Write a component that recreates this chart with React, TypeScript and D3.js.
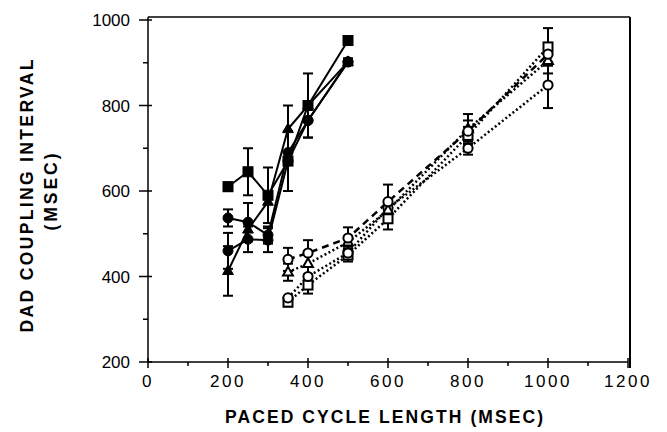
import React from "react";
import * as d3 from "d3";

const filledX = [200, 250, 300, 350, 400, 500];
const fSquare = [610, 645, 590, 670, 800, 952];
const fSquareErr = [10, 55, 65, 70, 75, 5];
const fCircleA = [537, 527, 497, 690, 765, 902];
const fCircleAErr = [20, 45, 20, 0, 40, 8];
const fTriangle = [413, 510, 575, 745, 800, 902];
const fTriangleErr = [58, 0, 0, 55, 0, 8];
const fCircleB = [460, 487, 485, 670, 765, 902];
const fCircleBErr = [42, 30, 28, 0, 0, 0];

const openX = [350, 400, 500, 600, 800, 1000];
const oSquareA = [340, 380, 450, 535, 730, 937];
const oSquareAErr = [10, 20, 15, 25, 20, 44];
const oCircleA = [350, 400, 455, 560, 700, 848];
const oCircleAErr = [0, 0, 10, 0, 15, 54];
const oTriangle = [410, 430, 480, 555, 745, 905];
const oTriangleErr = [20, 25, 10, 0, 20, 30];
const oCircleB = [440, 455, 490, 575, 740, 920];
const oCircleBErr = [27, 30, 25, 40, 40, 0];

const xTicks = [0, 200, 400, 600, 800, 1000, 1200];
const xMinor = [100, 300, 500, 700, 900, 1100];
const yTicks = [200, 400, 600, 800, 1000];
const yMinor = [300, 500, 700, 900];

type Series = {
  xs: number[];
  ys: number[];
  err: number[];
  shape: "square" | "circle" | "triangle";
  filled: boolean;
  dash: string | null;
};

const series: Series[] = [
  { xs: openX, ys: oSquareA, err: oSquareAErr, shape: "square", filled: false, dash: "2,2.5" },
  { xs: openX, ys: oCircleA, err: oCircleAErr, shape: "circle", filled: false, dash: "2,2.5" },
  { xs: openX, ys: oTriangle, err: oTriangleErr, shape: "triangle", filled: false, dash: "2,2.5" },
  { xs: openX, ys: oCircleB, err: oCircleBErr, shape: "circle", filled: false, dash: "7,5" },
  { xs: filledX, ys: fCircleB, err: fCircleBErr, shape: "circle", filled: true, dash: null },
  { xs: filledX, ys: fTriangle, err: fTriangleErr, shape: "triangle", filled: true, dash: null },
  { xs: filledX, ys: fCircleA, err: fCircleAErr, shape: "circle", filled: true, dash: null },
  { xs: filledX, ys: fSquare, err: fSquareErr, shape: "square", filled: true, dash: null },
];

const FONT = "'Liberation Sans', Arial, Helvetica, sans-serif";

export default function App() {
  const x = d3.scaleLinear().domain([0, 1200]).range([148, 628]);
  const y = d3.scaleLinear().domain([200, 1000]).range([362, 20]);
  const line = d3
    .line<[number, number]>()
    .x((d) => x(d[0]))
    .y((d) => y(d[1]));

  const marker = (s: Series, px: number, py: number, key: string) => {
    const fill = s.filled ? "#000" : "#fff";
    const sw = s.filled ? 1 : 2;
    if (s.shape === "square") {
      const r = s.filled ? 5 : 4.5;
      return <rect key={key} x={px - r} y={py - r} width={2 * r} height={2 * r} fill={fill} stroke="#000" strokeWidth={sw} />;
    }
    if (s.shape === "circle") {
      return <circle key={key} cx={px} cy={py} r={s.filled ? 5 : 4.6} fill={fill} stroke="#000" strokeWidth={sw} />;
    }
    const r = s.filled ? 6 : 5.5;
    const pts = [
      [px, py - r],
      [px + r * 0.9, py + r * 0.6],
      [px - r * 0.9, py + r * 0.6],
    ]
      .map((p) => p.join(","))
      .join(" ");
    return <polygon key={key} points={pts} fill={fill} stroke="#000" strokeWidth={sw} strokeLinejoin="miter" />;
  };

  return (
    <svg width={667} height={432} style={{ position: "absolute", left: 0, top: 0, background: "#fff" }}>
      <rect x={0} y={0} width={667} height={432} fill="#fff" />
      {/* frame */}
      <line x1={x(0)} x2={x(0)} y1={y(1000) - 3} y2={y(200)} stroke="#000" strokeWidth={1.5} />
      <line x1={x(0)} x2={x(1200)} y1={y(200)} y2={y(200)} stroke="#000" strokeWidth={1.5} />
      <line x1={x(0)} x2={x(1200) + 2} y1={y(1000) - 3} y2={y(1000) - 3} stroke="#000" strokeWidth={1.5} />
      <line x1={x(1200) + 2} x2={x(1200) + 2} y1={y(1000) - 3} y2={y(200) + 6} stroke="#000" strokeWidth={2} />

      {/* y ticks */}
      {yTicks.map((t) => (
        <g key={"yt" + t}>
          <line x1={x(0) - 9} x2={x(0) + 4} y1={y(t)} y2={y(t)} stroke="#000" strokeWidth={1.5} />
          <text x={x(0) - 18} y={y(t) + 6} textAnchor="end" fontFamily={FONT} fontSize={17} fill="#000">
            {t}
          </text>
        </g>
      ))}
      {yMinor.map((t) => (
        <line key={"ym" + t} x1={x(0) - 5} x2={x(0)} y1={y(t)} y2={y(t)} stroke="#000" strokeWidth={1.5} />
      ))}
      {/* x ticks */}
      {xTicks.map((t) => (
        <g key={"xt" + t}>
          <line x1={x(t)} x2={x(t)} y1={y(200) - 4} y2={y(200) + 6} stroke="#000" strokeWidth={1.5} />
          <text x={x(t)} y={y(200) + 25} textAnchor="middle" fontFamily={FONT} fontSize={17} letterSpacing={2.5} fill="#000">
            {t}
          </text>
        </g>
      ))}
      {xMinor.map((t) => (
        <line key={"xm" + t} x1={x(t)} x2={x(t)} y1={y(200)} y2={y(200) + 4} stroke="#000" strokeWidth={1.5} />
      ))}

      {/* titles */}
      <text x={384} y={423} textAnchor="middle" fontFamily={FONT} fontWeight="bold" fontSize={17.5} textLength={318} lengthAdjust="spacing" fill="#000">
        PACED CYCLE LENGTH (MSEC)
      </text>
      <text transform="translate(33,196) rotate(-90)" textAnchor="middle" fontFamily={FONT} fontWeight="bold" fontSize={17.5} textLength={273} lengthAdjust="spacing" fill="#000">
        DAD COUPLING INTERVAL
      </text>
      <text transform="translate(57,192) rotate(-90)" textAnchor="middle" fontFamily={FONT} fontWeight="bold" fontSize={17.5} textLength={77} lengthAdjust="spacing" fill="#000">
        (MSEC)
      </text>

      {/* error bars */}
      {series.map((s, si) =>
        s.xs.map((xv, i) =>
          s.err[i] > 0 ? (
            <g key={`e${si}-${i}`} stroke="#000" strokeWidth={2}>
              <line x1={x(xv)} x2={x(xv)} y1={y(s.ys[i] - s.err[i])} y2={y(s.ys[i] + s.err[i])} />
              <line x1={x(xv) - 5} x2={x(xv) + 5} y1={y(s.ys[i] + s.err[i])} y2={y(s.ys[i] + s.err[i])} />
              <line x1={x(xv) - 5} x2={x(xv) + 5} y1={y(s.ys[i] - s.err[i])} y2={y(s.ys[i] - s.err[i])} />
            </g>
          ) : null
        )
      )}
      {/* lines */}
      {series.map((s, si) => (
        <path
          key={"l" + si}
          d={line(s.xs.map((xv, i) => [xv, s.ys[i]] as [number, number])) || ""}
          fill="none"
          stroke="#000"
          strokeWidth={s.dash ? 2.5 : 2}
          strokeDasharray={s.dash || undefined}
        />
      ))}
      {/* markers */}
      {series.map((s, si) => s.xs.map((xv, i) => marker(s, x(xv), y(s.ys[i]), `m${si}-${i}`)))}
    </svg>
  );
}
